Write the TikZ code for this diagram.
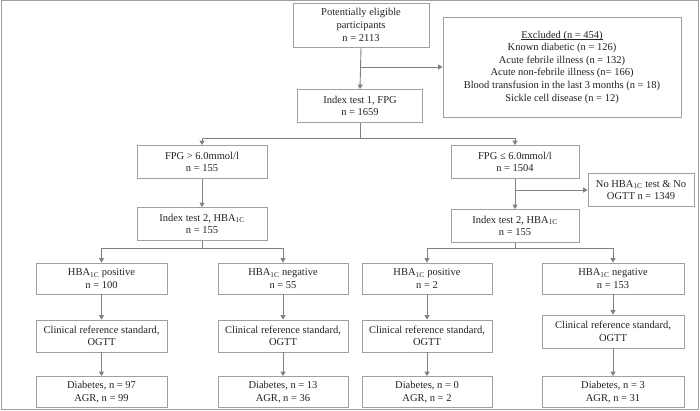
\documentclass[tikz,border=0pt]{standalone}
\usepackage{fontspec}
\setmainfont{Liberation Serif}
\usetikzlibrary{arrows.meta}
\definecolor{linegray}{HTML}{808080}
\definecolor{boxgray}{HTML}{A0A0A0}
\definecolor{txt}{HTML}{222222}
\newcommand{\hba}{HBA\textsubscript{1C}}
\newcommand{\ulx}[1]{\leavevmode\setbox0\hbox{#1}\rlap{\rule[-2pt]{\wd0}{0.6pt}}\box0}
\tikzset{
  box/.style={draw=boxgray, line width=0.8pt, inner sep=0pt, align=center,
    text=txt, font=\fontsize{10.5}{12.6}\selectfont},
  arr/.style={draw=linegray, line width=0.9pt, -{Triangle[length=4.5pt,width=5pt]}},
  ln/.style={draw=linegray, line width=0.9pt},
}
\begin{document}
\begin{tikzpicture}[x=1pt,y=-1pt]
\useasboundingbox (0,0) rectangle (700,411);
\draw[draw=boxgray, line width=1pt] (1,1) rectangle (698.5,409.5);
% row 0
\node[box, minimum width=136pt, minimum height=44pt] (top) at (361,25)
  {Potentially eligible\\participants\\n = 2113};
\node[box, minimum width=238pt, minimum height=100pt] (excl) at (562,67)
  {\ulx{Excluded (n = 454)}\\Known diabetic (n = 126)\\Acute febrile illness (n = 132)\\Acute non-febrile illness (n= 166)\\Blood transfusion in the last 3 months (n = 18)\\Sickle cell disease (n = 12)};
\node[box, minimum width=125pt, minimum height=33pt] (idx1) at (360,106)
  {Index test 1, FPG\\n = 1659};
% row FPG
\node[box, minimum width=130pt, minimum height=33pt] (fpgA) at (202,162)
  {FPG > 6.0mmol/l\\n = 155};
\node[box, minimum width=128pt, minimum height=33pt] (fpgB) at (515,162)
  {FPG ≤ 6.0mmol/l\\n = 1504};
\node[box, minimum width=106pt, minimum height=33pt] (noT) at (641,190)
  {No \hba{} test \& No\\OGTT n = 1349};
% index test 2
\node[box, minimum width=130pt, minimum height=33pt] (idxA) at (202,224)
  {Index test 2, \hba\\n = 155};
\node[box, minimum width=128pt, minimum height=33pt] (idxB) at (515,226)
  {Index test 2, \hba\\n = 155};
% HBA row
\node[box, minimum width=131pt, minimum height=31pt] (hA1) at (101.5,278.5)
  {\hba{} positive\\n = 100};
\node[box, minimum width=130pt, minimum height=31pt] (hA2) at (283,278.5)
  {\hba{} negative\\n = 55};
\node[box, minimum width=130pt, minimum height=31pt] (hB1) at (427,278.5)
  {\hba{} positive\\n = 2};
\node[box, minimum width=142pt, minimum height=31pt] (hB2) at (613,278.5)
  {\hba{} negative\\n = 153};
% clinical row
\node[box, minimum width=131pt, minimum height=32pt] (cA1) at (101.5,336)
  {Clinical reference standard,\\OGTT};
\node[box, minimum width=130pt, minimum height=32pt] (cA2) at (283,336)
  {Clinical reference standard,\\OGTT};
\node[box, minimum width=130pt, minimum height=32pt] (cB1) at (427,336)
  {Clinical reference standard,\\OGTT};
\node[box, minimum width=142pt, minimum height=33pt] (cB2) at (613,331.5)
  {Clinical reference standard,\\OGTT};
% diabetes row
\node[box, minimum width=131pt, minimum height=31pt] (dA1) at (101.5,392)
  {Diabetes, n = 97\\AGR, n = 99};
\node[box, minimum width=130pt, minimum height=31pt] (dA2) at (283,392)
  {Diabetes, n = 13\\AGR, n = 36};
\node[box, minimum width=130pt, minimum height=31pt] (dB1) at (427,392)
  {Diabetes, n = 0\\AGR, n = 2};
\node[box, minimum width=142pt, minimum height=31pt] (dB2) at (613,392)
  {Diabetes, n = 3\\AGR, n = 31};
% junction coordinates
\coordinate (j1) at (361,67);
\coordinate (j2) at (360,138);
\coordinate (j3) at (515,190);
\coordinate (j4) at (202,248);
\coordinate (j5) at (515,248);
% connectors
\draw[arr] (top.south) -- (idx1.north);
\draw[arr] (j1) -- (excl.west);
\draw[ln] (idx1.south) -- (j2);
\draw[arr] (j2) -| (fpgA.north);
\draw[arr] (j2) -| (fpgB.north);
\draw[arr] (fpgA.south) -- (idxA.north);
\draw[arr] (fpgB.south) -- (idxB.north);
\draw[arr] (j3) -- (noT.west);
\draw[ln] (idxA.south) -- (j4);
\draw[arr] (j4) -| (hA1.north);
\draw[arr] (j4) -| (hA2.north);
\draw[ln] (idxB.south) -- (j5);
\draw[arr] (j5) -| (hB1.north);
\draw[arr] (j5) -| (hB2.north);
\draw[arr] (hA1.south) -- (cA1.north);
\draw[arr] (hA2.south) -- (cA2.north);
\draw[arr] (hB1.south) -- (cB1.north);
\draw[arr] (hB2.south) -- (cB2.north);
\draw[arr] (cA1.south) -- (dA1.north);
\draw[arr] (cA2.south) -- (dA2.north);
\draw[arr] (cB1.south) -- (dB1.north);
\draw[arr] (cB2.south) -- (dB2.north);
\end{tikzpicture}
\end{document}
